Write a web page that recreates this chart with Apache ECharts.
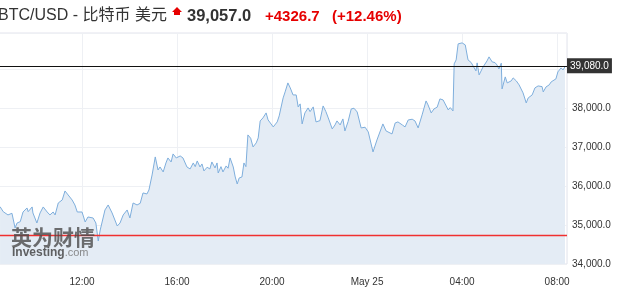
<!DOCTYPE html>
<html>
<head>
<meta charset="utf-8">
<script src="https://cdn.jsdelivr.net/npm/echarts@6/dist/echarts.min.js"></script>
<style>
html,body{margin:0;padding:0;background:#fff;}
#c{width:626px;height:289px;}
</style>
</head>
<body>
<div id="c"></div>
<script>
// minutes since 2021-05-24 00:00
const times = [513,521,526,533,543,551,556,564,571,581,584,594,596,606,614,622,632,639,647,652,660,670,677,685,695,702,708,720,728,735,748,755,761,766,778,786,796,809,816,824,834,841,849,859,867,874,884,889,897,905,912,917,925,932,937,945,950,958,963,968,975,978,985,993,1001,1006,1011,1018,1023,1028,1036,1043,1048,1056,1061,1064,1071,1076,1084,1089,1094,1102,1107,1112,1117,1124,1129,1134,1139,1146,1152,1160,1165,1170,1177,1185,1190,1203,1213,1218,1228,1233,1240,1246,1253,1261,1266,1271,1276,1283,1291,1296,1304,1311,1321,1329,1336,1342,1352,1359,1364,1372,1379,1384,1392,1400,1407,1415,1425,1430,1435,1443,1448,1455,1465,1470,1480,1488,1503,1511,1518,1529,1536,1544,1554,1561,1569,1579,1589,1594,1602,1609,1617,1624,1632,1637,1645,1650,1657,1660,1665,1670,1680,1688,1693,1695,1703,1708,1715,1718,1723,1733,1736,1743,1748,1756,1763,1768,1773,1779,1781,1789,1794,1804,1809,1817,1824,1834,1842,1847,1857,1864,1872,1882,1885,1892,1900,1905,1910,1917,1922,1930,1935,1940];
const prices = [35469,35341,35385,35257,35300,34923,35051,35085,35333,35436,35341,35462,35308,35051,35308,35462,35333,35257,35333,35257,35564,35641,35872,35769,35641,35513,35333,35333,35077,35205,35179,35051,34590,34872,35385,35513,35308,34974,35051,35257,35385,35179,35564,35513,35556,35821,35795,35897,36282,36744,36410,36487,36359,36590,36718,36615,36821,36718,36751,36769,36718,36751,36487,36436,36590,36495,36641,36487,36564,36385,36480,36436,36615,36462,36590,36333,36495,36359,36513,36454,36718,36487,36231,36051,36205,36231,36590,36495,37308,37223,37000,37103,37231,37667,37744,37872,37692,37513,37641,37795,38256,38410,38641,38513,38333,38333,38026,38103,37590,37872,38000,37905,38026,37641,37674,38051,37905,37744,37462,37564,37667,37564,37718,37410,37649,37974,37992,37897,37487,37436,37505,37385,37436,36872,37179,37136,37590,37410,37333,37615,37641,37564,37513,37692,37710,37667,37487,37821,38179,38077,37872,37974,38018,38231,38205,38223,37949,38008,37923,39128,39231,39641,39667,39615,39590,39231,39162,39213,38949,39154,38846,39051,39018,39205,39308,39179,39162,39103,39000,39146,38487,38795,38641,38692,38769,38692,38590,38385,38128,38256,38333,38513,38564,38546,38410,38538,38590,38667,38649,38744,38923,39026,38974,39057];
const xTickValues = [480,720,960,1200,1440,1680,1920];
const xTickLabels = ['','12:00','16:00','20:00','May 25','04:00','08:00'];
const yTickValues = [34000,35000,36000,37000,38000];
const markerPrice = 39080;
const prevClose = 34730.3;
const titleText = 'BTC/USD - 比特币 美元';
const lastPrice = '39,057.0';
const changeText = '+4326.7';
const changePct = '(+12.46%)';

const chart = echarts.init(document.getElementById('c'), null, {renderer:'canvas'});
const data = times.map((t,i)=>[t, prices[i]]);
const fmt = v => v.toLocaleString('en-US',{minimumFractionDigits:1,maximumFractionDigits:1});
const LAT = 'Liberation Sans, Arial, Noto Sans CJK SC, sans-serif';
const RED = '#f03030';

chart.setOption({
  animation:false,
  backgroundColor:'#fff',
  textStyle:{fontFamily:LAT},
  grid:{left:-13,right:59,top:33,bottom:25,outerBoundsMode:'none',containLabel:false,
        show:true,borderColor:'#e3e3ec',borderWidth:1,backgroundColor:'transparent'},
  xAxis:{
    type:'value',min:480,max:1945,interval:240,
    axisLine:{show:false},axisTick:{show:false},
    axisLabel:{color:'#333',fontSize:10,margin:13,fontFamily:LAT,
      formatter:v=>{const i=xTickValues.indexOf(v);return i>=0?xTickLabels[i]:'';}},
    splitLine:{show:true,lineStyle:{color:'#eef0f4',width:1}}
  },
  yAxis:{
    type:'value',position:'right',min:34000,max:39920,interval:1000,
    axisLine:{show:false},axisTick:{show:false},
    axisLabel:{color:'#333',fontSize:10,margin:5,fontFamily:LAT,
      formatter:v=>yTickValues.indexOf(v)>=0?fmt(v):''},
    splitLine:{show:true,lineStyle:{color:'#eef0f4',width:1}}
  },
  series:[{
    type:'line',data:data,showSymbol:false,smooth:false,
    lineStyle:{color:'#7eaedc',width:1},
    itemStyle:{color:'#7eaedc'},
    areaStyle:{color:'#e4ecf5',opacity:1},
    markLine:{
      silent:true,symbol:['none','none'],animation:false,
      lineStyle:{color:RED,width:1.3,type:'solid'},
      label:{show:false},
      data:[{yAxis:prevClose}]
    }
  },{
    type:'line',data:[],showSymbol:false,
    markLine:{
      silent:true,symbol:['none','none'],animation:false,
      lineStyle:{color:'#111',width:1,type:'solid'},
      label:{show:true,position:'end',distance:0,formatter:fmt(markerPrice),color:'#fff',backgroundColor:'#333',
             padding:[3,3,2,3],fontSize:10,fontFamily:LAT},
      data:[{yAxis:markerPrice}]
    }
  }],
  graphic:[
    {type:'text',left:-2,top:8,style:{text:titleText,font:'16px '+LAT,fill:'#333'}},
    {type:'polygon',shape:{points:[[172,12],[177,7],[182,12],[180,12],[180,15],[174,15],[174,12]]},style:{fill:'#e60000'}},
    {type:'text',left:187,top:8,style:{text:lastPrice,font:'bold 16.5px '+LAT,fill:'#333'}},
    {type:'text',left:265,top:9,style:{text:changeText,font:'bold 15px '+LAT,fill:'#e60000'}},
    {type:'text',left:332,top:9,style:{text:changePct,font:'bold 15px '+LAT,fill:'#e60000'}},
    {type:'text',left:11,top:227,z:100,style:{text:'英为财情',font:'bold 21px Noto Sans CJK SC, sans-serif',fill:'rgba(75,75,75,0.8)'}},
    {type:'text',left:12,top:247,z:100,style:{rich:{a:{font:'bold 12px '+LAT,fill:'rgba(70,70,70,0.85)'},b:{font:'11px '+LAT,fill:'rgba(120,120,120,0.85)'}},text:'{a|Investing}{b|.com}'}}
  ]
});
</script>
</body>
</html>
